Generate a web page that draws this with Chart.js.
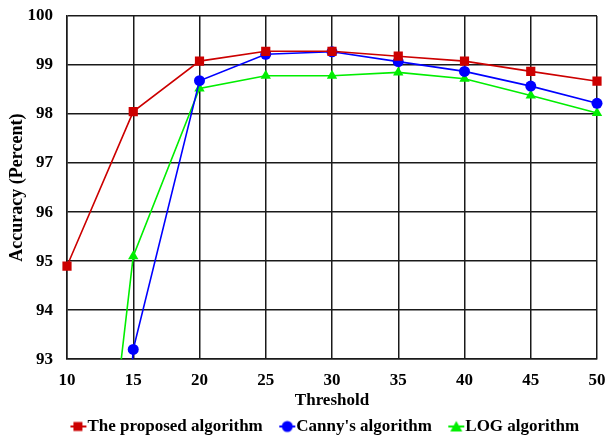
<!DOCTYPE html>
<html>
<head>
<meta charset="utf-8">
<script src="https://cdn.jsdelivr.net/npm/chart.js@4/dist/chart.umd.min.js"></script>
<style>
  html, body { margin: 0; padding: 0; background: #fff; }
  #wrap { width: 606px; height: 436px; position: relative; }
</style>
</head>
<body>
<div id="wrap"><canvas id="chart"></canvas></div>
<script>
const thresholds = ['10', '15', '20', '25', '30', '35', '40', '45', '50'];
const proposed = [94.9, 98.05, 99.08, 99.28, 99.28, 99.18, 99.08, 98.87, 98.67];
const canny = [75.0, 93.2, 98.68, 99.22, 99.27, 99.07, 98.87, 98.57, 98.22];
const logAlg = [83.5, 95.1, 98.52, 98.78, 98.78, 98.85, 98.72, 98.38, 98.02];
const seriesNames = ['The proposed algorithm', "Canny's algorithm", 'LOG algorithm'];

const FONT = "'Liberation Serif', 'Times New Roman', serif";

// legend icon: a short line with the marker on it; the canvas is wider than the
// box so the drawn part sits right next to the text
function legendIcon(color, style) {
    const c = document.createElement('canvas');
    c.width = 40;
    c.height = 14;
    const ctx = c.getContext('2d');
    ctx.strokeStyle = color;
    ctx.lineWidth = 2;
    ctx.beginPath();
    ctx.moveTo(23, 7);
    ctx.lineTo(39, 7);
    ctx.stroke();
    ctx.fillStyle = color;
    if (style === 'rect') {
        ctx.fillRect(26, 2.5, 9, 9);
    } else if (style === 'circle') {
        ctx.beginPath();
        ctx.arc(31, 7, 5.5, 0, Math.PI * 2);
        ctx.fill();
    } else {
        ctx.beginPath();
        ctx.moveTo(31, 1.5);
        ctx.lineTo(37, 12);
        ctx.lineTo(25, 12);
        ctx.closePath();
        ctx.fill();
    }
    return c;
}

const clipBox = { left: 10, top: 10, right: 10, bottom: 0 };

function makeSet(label, data, color, style, radius) {
    return {
        label: label,
        data: data,
        borderColor: color,
        backgroundColor: color,
        borderWidth: 1.6,
        pointStyle: style,
        pointRadius: radius,
        pointHoverRadius: radius,
        pointBorderWidth: 0,
        tension: 0,
        clip: clipBox,
        icon: legendIcon(color, style)
    };
}

// nudge the legend right and down, the original sits under the plot
const legendShift = {
    id: 'legendShift',
    afterLayout(chart) {
        const lg = chart.legend;
        if (lg) {
            lg.left += 19;
            lg.right += 19;
            lg.top += 5;
            lg.bottom += 5;
        }
    }
};

new Chart(document.getElementById('chart'), {
    type: 'line',
    data: {
        labels: thresholds,
        datasets: [
            makeSet(seriesNames[0], proposed, '#cc0000', 'rect', 6.5),
            makeSet(seriesNames[1], canny, '#0000ff', 'circle', 5.5),
            makeSet(seriesNames[2], logAlg, '#00ee00', 'triangle', 6)
        ]
    },
    plugins: [legendShift],
    options: {
        responsive: true,
        maintainAspectRatio: false,
        animation: false,
        layout: { padding: { left: 0, right: 9, top: 16, bottom: -4 } },
        scales: {
            x: {
                offset: false,
                grid: { color: '#1a1a1a', lineWidth: 1.5, drawTicks: false },
                border: { color: '#1a1a1a', width: 1.5 },
                ticks: {
                    color: '#000',
                    padding: 11,
                    maxRotation: 0,
                    font: { family: FONT, size: 17, weight: 'bold' }
                },
                title: {
                    display: true,
                    text: 'Threshold',
                    color: '#000',
                    padding: { top: -11, bottom: 0 },
                    font: { family: FONT, size: 17, weight: 'bold' }
                },
                afterFit: (scale) => {
                    scale.paddingLeft = 0;
                    scale.paddingRight = 0;
                }
            },
            y: {
                min: 93,
                max: 100,
                grid: { color: '#1a1a1a', lineWidth: 1.5, drawTicks: false },
                border: { color: '#1a1a1a', width: 1.5 },
                ticks: {
                    stepSize: 1,
                    color: '#000',
                    padding: 14,
                    font: { family: FONT, size: 17, weight: 'bold' }
                },
                title: {
                    display: true,
                    text: 'Accuracy (Percent)',
                    color: '#000',
                    padding: { top: 7, bottom: 0 },
                    font: { family: FONT, size: 18, weight: 'bold' }
                },
                afterFit: (scale) => {
                    scale.width = 67;
                    scale.paddingTop = 0;
                    scale.paddingBottom = 0;
                }
            }
        },
        plugins: {
            tooltip: { enabled: false },
            legend: {
                position: 'bottom',
                labels: {
                    usePointStyle: true,
                    pointStyleWidth: 23,
                    color: '#000',
                    padding: 2,
                    font: { family: FONT, size: 17, weight: 'bold' },
                    generateLabels: (chart) => chart.data.datasets.map((ds, i) => ({
                        text: ds.label,
                        fillStyle: ds.borderColor,
                        strokeStyle: ds.borderColor,
                        fontColor: '#000',
                        pointStyle: ds.icon,
                        hidden: false,
                        datasetIndex: i
                    }))
                }
            }
        }
    }
});
</script>
</body>
</html>
